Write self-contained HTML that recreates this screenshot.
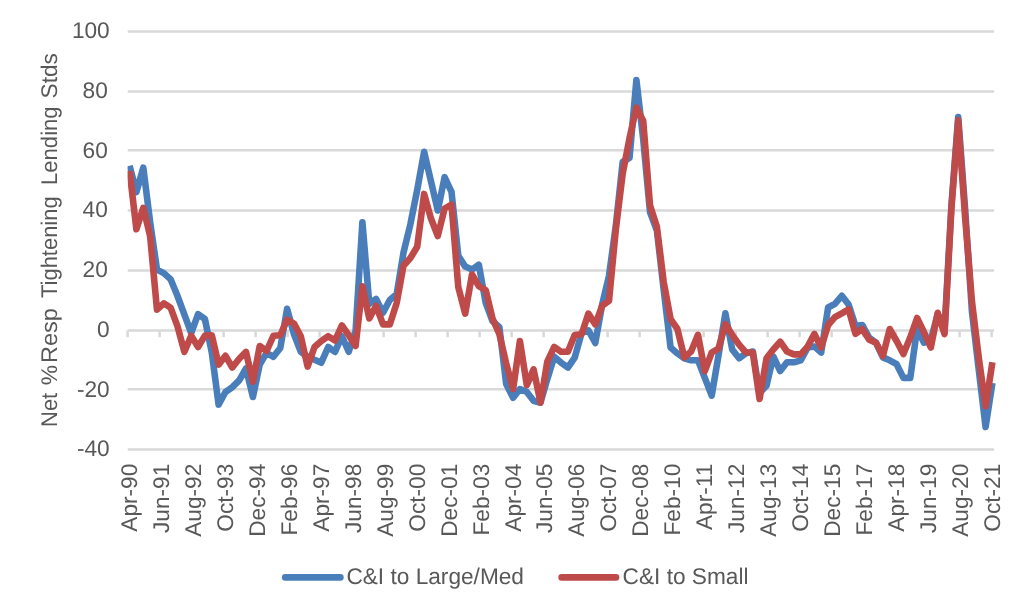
<!DOCTYPE html>
<html><head><meta charset="utf-8"><title>Chart</title>
<style>
html,body{margin:0;padding:0;background:#fff;}
body{width:1024px;height:613px;overflow:hidden;}
svg{display:block;}
text{font-family:"Liberation Sans",sans-serif;font-size:22.67px;fill:#595959;text-rendering:geometricPrecision;}
</style></head><body>
<svg width="1024" height="613" viewBox="0 0 1024 613">
<rect width="1024" height="613" fill="#ffffff"/>
<defs><filter id="soft" x="0" y="0" width="1024" height="613" filterUnits="userSpaceOnUse"><feGaussianBlur stdDeviation="0.55"/></filter></defs>
<g filter="url(#soft)">
<g stroke="#d9d9d9" stroke-width="2.5" fill="none">
<line x1="127.7" y1="31.45" x2="994.1" y2="31.45"/>
<line x1="127.7" y1="91.6" x2="994.1" y2="91.6"/>
<line x1="127.7" y1="150.3" x2="994.1" y2="150.3"/>
<line x1="127.7" y1="210.5" x2="994.1" y2="210.5"/>
<line x1="127.7" y1="270.4" x2="994.1" y2="270.4"/>
<line x1="127.7" y1="330.5" x2="994.1" y2="330.5"/>
<line x1="127.7" y1="389.3" x2="994.1" y2="389.3"/>
<line x1="127.7" y1="449.4" x2="994.1" y2="449.4"/>
<line x1="127.60" y1="330.5" x2="127.60" y2="337.2"/>
<line x1="159.60" y1="330.5" x2="159.60" y2="337.2"/>
<line x1="191.60" y1="330.5" x2="191.60" y2="337.2"/>
<line x1="223.60" y1="330.5" x2="223.60" y2="337.2"/>
<line x1="255.60" y1="330.5" x2="255.60" y2="337.2"/>
<line x1="287.60" y1="330.5" x2="287.60" y2="337.2"/>
<line x1="319.60" y1="330.5" x2="319.60" y2="337.2"/>
<line x1="351.60" y1="330.5" x2="351.60" y2="337.2"/>
<line x1="383.60" y1="330.5" x2="383.60" y2="337.2"/>
<line x1="415.60" y1="330.5" x2="415.60" y2="337.2"/>
<line x1="447.60" y1="330.5" x2="447.60" y2="337.2"/>
<line x1="479.60" y1="330.5" x2="479.60" y2="337.2"/>
<line x1="511.60" y1="330.5" x2="511.60" y2="337.2"/>
<line x1="543.60" y1="330.5" x2="543.60" y2="337.2"/>
<line x1="575.60" y1="330.5" x2="575.60" y2="337.2"/>
<line x1="607.60" y1="330.5" x2="607.60" y2="337.2"/>
<line x1="639.60" y1="330.5" x2="639.60" y2="337.2"/>
<line x1="671.60" y1="330.5" x2="671.60" y2="337.2"/>
<line x1="703.60" y1="330.5" x2="703.60" y2="337.2"/>
<line x1="735.60" y1="330.5" x2="735.60" y2="337.2"/>
<line x1="767.60" y1="330.5" x2="767.60" y2="337.2"/>
<line x1="799.60" y1="330.5" x2="799.60" y2="337.2"/>
<line x1="831.60" y1="330.5" x2="831.60" y2="337.2"/>
<line x1="863.60" y1="330.5" x2="863.60" y2="337.2"/>
<line x1="895.60" y1="330.5" x2="895.60" y2="337.2"/>
<line x1="927.60" y1="330.5" x2="927.60" y2="337.2"/>
<line x1="959.60" y1="330.5" x2="959.60" y2="337.2"/>
<line x1="991.60" y1="330.5" x2="991.60" y2="337.2"/>
</g>
<g text-anchor="end">
<text transform="translate(109.7,38.0) scale(1,1)">100</text>
<text transform="translate(107.8,98.1) scale(1,1)">80</text>
<text transform="translate(107.8,158.2) scale(1,1)">60</text>
<text transform="translate(107.8,217.1) scale(1,1)">40</text>
<text transform="translate(107.8,277.1) scale(1,1)">20</text>
<text transform="translate(109.7,337.0) scale(1,1)">0</text>
<text transform="translate(109.7,397.4) scale(1,1)">-20</text>
<text transform="translate(109.7,456.0) scale(1,1)">-40</text>
</g>
<text transform="translate(57.3,0) rotate(-90)"><tspan x="-426.90" textLength="34.00" lengthAdjust="spacingAndGlyphs">Net</tspan> <tspan x="-385.30" textLength="20.30" lengthAdjust="spacingAndGlyphs">%</tspan> <tspan x="-362.90" textLength="54.80" lengthAdjust="spacingAndGlyphs">Resp</tspan> <tspan x="-298.00" textLength="101.60" lengthAdjust="spacingAndGlyphs">Tightening</tspan> <tspan x="-185.00" textLength="78.60" lengthAdjust="spacingAndGlyphs">Lending</tspan> <tspan x="-98.50" textLength="45.40" lengthAdjust="spacingAndGlyphs">Stds</tspan></text>
<g text-anchor="end">
<text transform="translate(137.10,463.7) rotate(-90) scale(1,1)">Apr-90</text>
<text transform="translate(169.05,463.7) rotate(-90) scale(1,1)">Jun-91</text>
<text transform="translate(201.00,463.7) rotate(-90) scale(1,1)">Aug-92</text>
<text transform="translate(232.95,463.7) rotate(-90) scale(1,1)">Oct-93</text>
<text transform="translate(264.90,463.7) rotate(-90) scale(1,1)">Dec-94</text>
<text transform="translate(296.85,463.7) rotate(-90) scale(1,1)">Feb-96</text>
<text transform="translate(328.80,463.7) rotate(-90) scale(1,1)">Apr-97</text>
<text transform="translate(360.75,463.7) rotate(-90) scale(1,1)">Jun-98</text>
<text transform="translate(392.70,463.7) rotate(-90) scale(1,1)">Aug-99</text>
<text transform="translate(424.65,463.7) rotate(-90) scale(1,1)">Oct-00</text>
<text transform="translate(456.60,463.7) rotate(-90) scale(1,1)">Dec-01</text>
<text transform="translate(488.55,463.7) rotate(-90) scale(1,1)">Feb-03</text>
<text transform="translate(520.50,463.7) rotate(-90) scale(1,1)">Apr-04</text>
<text transform="translate(552.45,463.7) rotate(-90) scale(1,1)">Jun-05</text>
<text transform="translate(584.40,463.7) rotate(-90) scale(1,1)">Aug-06</text>
<text transform="translate(616.35,463.7) rotate(-90) scale(1,1)">Oct-07</text>
<text transform="translate(648.30,463.7) rotate(-90) scale(1,1)">Dec-08</text>
<text transform="translate(680.25,463.7) rotate(-90) scale(1,1)">Feb-10</text>
<text transform="translate(712.20,463.7) rotate(-90) scale(1,1)">Apr-11</text>
<text transform="translate(744.15,463.7) rotate(-90) scale(1,1)">Jun-12</text>
<text transform="translate(776.10,463.7) rotate(-90) scale(1,1)">Aug-13</text>
<text transform="translate(808.05,463.7) rotate(-90) scale(1,1)">Oct-14</text>
<text transform="translate(840.00,463.7) rotate(-90) scale(1,1)">Dec-15</text>
<text transform="translate(871.95,463.7) rotate(-90) scale(1,1)">Feb-17</text>
<text transform="translate(903.90,463.7) rotate(-90) scale(1,1)">Apr-18</text>
<text transform="translate(935.85,463.7) rotate(-90) scale(1,1)">Jun-19</text>
<text transform="translate(967.80,463.7) rotate(-90) scale(1,1)">Aug-20</text>
<text transform="translate(999.75,463.7) rotate(-90) scale(1,1)">Oct-21</text>
</g>
<clipPath id="plotclip"><rect x="127.6" y="20" width="870" height="440"/></clipPath><g clip-path="url(#plotclip)">
<polyline points="129.6,165.7 136.4,192.1 143.3,167.6 150.1,222.0 157.0,269.6 163.8,273.1 170.7,279.4 177.5,296.0 184.4,314.6 191.2,333.0 198.1,314.2 204.9,319.0 211.8,352.5 218.6,404.6 225.5,392.0 232.3,387.2 239.2,380.3 246.0,368.5 252.9,397.0 259.7,364.6 266.6,352.9 273.4,356.8 280.3,348.0 287.1,308.8 294.0,334.3 300.8,351.9 307.6,356.8 314.5,359.7 321.3,362.7 328.2,347.0 335.0,351.9 341.9,336.2 348.7,351.8 355.6,331.0 362.4,222.3 369.3,303.9 376.1,299.0 383.0,312.7 389.8,300.0 396.7,294.0 403.5,252.6 410.4,224.2 417.2,190.0 424.1,151.8 430.9,181.0 437.8,210.5 444.6,177.2 451.5,191.9 458.3,255.9 465.2,266.6 472.0,269.6 478.8,264.7 485.7,302.9 492.5,321.0 499.4,327.3 506.2,384.1 513.1,397.8 519.9,389.0 526.8,391.9 533.6,400.8 540.5,402.7 547.3,379.2 554.2,356.7 561.0,362.6 567.9,367.5 574.7,357.7 581.6,333.0 588.4,330.3 595.3,343.0 602.1,304.8 609.0,275.8 615.8,225.8 622.7,161.8 629.5,157.9 636.4,80.0 643.2,139.0 650.0,212.0 656.9,230.7 663.7,289.8 670.6,347.6 677.4,353.4 684.3,358.3 691.1,360.3 698.0,360.3 704.8,377.9 711.7,395.6 718.5,355.4 725.4,313.3 732.2,349.5 739.1,358.3 745.9,353.4 752.8,351.5 759.6,393.0 766.5,385.8 773.3,356.4 780.2,371.1 787.0,362.3 793.9,362.3 800.7,360.3 807.6,347.6 814.4,346.6 821.2,352.5 828.1,307.5 834.9,303.8 841.8,295.8 848.6,304.5 855.5,326.0 862.3,325.0 869.2,337.8 876.0,342.7 882.9,357.4 889.7,360.3 896.6,364.2 903.4,377.9 910.3,377.9 917.1,328.5 924.0,342.7 930.8,340.0 937.7,314.0 944.5,331.0 951.4,206.0 958.2,117.0 965.1,208.5 971.9,311.0 978.8,370.0 985.6,427.0 992.4,383.0" fill="none" stroke="#4a7ebb" stroke-width="6.6" stroke-linejoin="round" stroke-linecap="butt"/>
<polyline points="129.6,171.0 136.4,229.3 143.3,207.8 150.1,236.0 157.0,309.7 163.8,303.3 170.7,307.8 177.5,326.4 184.4,351.8 191.2,335.7 198.1,347.0 204.9,335.6 211.8,335.2 218.6,364.6 225.5,355.8 232.3,367.5 239.2,358.8 246.0,351.9 252.9,381.7 259.7,346.0 266.6,351.0 273.4,335.8 280.3,335.2 287.1,319.6 294.0,323.5 300.8,336.2 307.6,366.6 314.5,347.0 321.3,341.0 328.2,336.2 335.0,340.5 341.9,325.4 348.7,335.2 355.6,346.0 362.4,286.2 369.3,318.5 376.1,305.8 383.0,324.4 389.8,324.4 396.7,302.9 403.5,265.7 410.4,258.0 417.2,246.7 424.1,193.9 430.9,218.3 437.8,236.0 444.6,208.5 451.5,204.6 458.3,287.2 465.2,313.6 472.0,274.5 478.8,286.2 485.7,290.1 492.5,318.5 499.4,334.2 506.2,363.5 513.1,389.0 519.9,341.0 526.8,385.1 533.6,369.4 540.5,402.7 547.3,361.6 554.2,346.9 561.0,351.8 567.9,351.8 574.7,335.1 581.6,334.2 588.4,313.6 595.3,324.4 602.1,305.8 609.0,300.9 615.8,229.7 622.7,173.6 629.5,138.3 636.4,107.5 643.2,120.7 650.0,205.3 656.9,226.8 663.7,282.0 670.6,319.2 677.4,329.0 684.3,357.4 691.1,351.5 698.0,334.8 704.8,371.1 711.7,352.5 718.5,348.5 725.4,324.1 732.2,334.8 739.1,344.6 745.9,352.5 752.8,352.5 759.6,399.0 766.5,358.3 773.3,349.5 780.2,341.7 787.0,351.5 793.9,354.4 800.7,354.4 807.6,346.6 814.4,333.9 821.2,347.6 828.1,325.0 834.9,317.2 841.8,313.3 848.6,309.4 855.5,333.9 862.3,329.0 869.2,339.7 876.0,342.7 882.9,356.0 889.7,329.0 896.6,341.0 903.4,354.0 910.3,337.3 917.1,318.0 924.0,332.3 930.8,347.5 937.7,312.8 944.5,334.0 951.4,208.5 958.2,120.4 965.1,217.0 971.9,301.0 978.8,358.0 985.6,406.2 992.4,362.2" fill="none" stroke="#be4b48" stroke-width="6.6" stroke-linejoin="round" stroke-linecap="butt"/>
</g>
<line x1="285.2" y1="577.4" x2="340.4" y2="577.4" stroke="#4a7ebb" stroke-width="6.6" stroke-linecap="round"/>
<text transform="translate(346.4,584.2) scale(1,1)">C&amp;I to Large/Med</text>
<line x1="561.6" y1="577.4" x2="616" y2="577.4" stroke="#be4b48" stroke-width="6.6" stroke-linecap="round"/>
<text transform="translate(622.6,584.2) scale(1,1)">C&amp;I to Small</text>
</g>
</svg></body></html>
